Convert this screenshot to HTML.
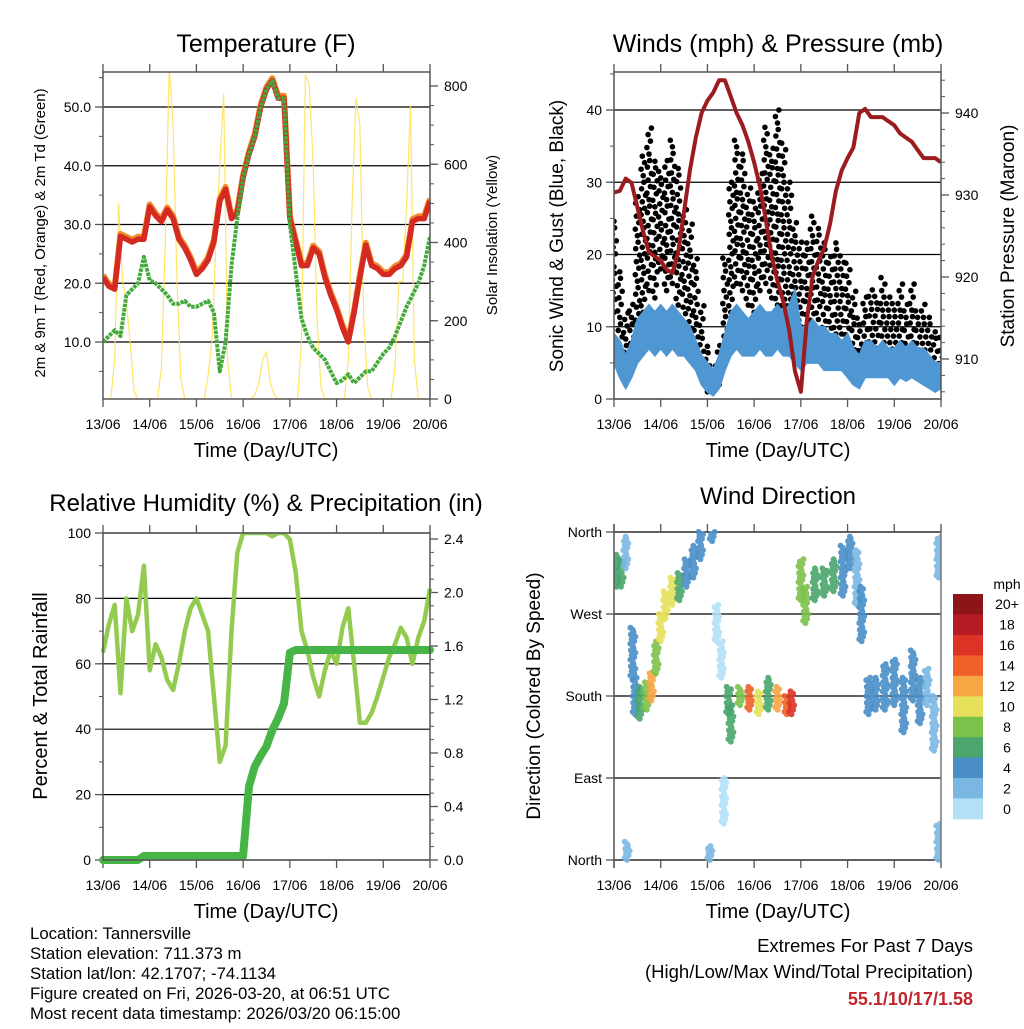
<!DOCTYPE html>
<html><head><meta charset="utf-8"><style>
html,body{margin:0;padding:0;background:#fff;}
svg text{font-family:"Liberation Sans",sans-serif;fill:#000;}
</style></head><body>
<svg id="chart" xmlns="http://www.w3.org/2000/svg" width="1024" height="1024" viewBox="0 0 1024 1024">
<rect x="0" y="0" width="1024" height="1024" fill="#fff"/>
<g id="p1"></g>
<g id="p2"></g>
<g id="p3"></g>
<g id="p4"></g>
<g id="txt">
<text x="266" y="52" font-size="25" text-anchor="middle">Temperature (F)</text>
<text x="778" y="52" font-size="25" text-anchor="middle">Winds (mph) &amp; Pressure (mb)</text>
<text x="266" y="511" font-size="24" text-anchor="middle">Relative Humidity (%) &amp; Precipitation (in)</text>
<text x="778" y="504" font-size="24" text-anchor="middle">Wind Direction</text>
<text x="266" y="457" font-size="20" text-anchor="middle">Time (Day/UTC)</text>
<text x="778" y="457" font-size="20" text-anchor="middle">Time (Day/UTC)</text>
<text x="266" y="918" font-size="20" text-anchor="middle">Time (Day/UTC)</text>
<text x="778" y="918" font-size="20" text-anchor="middle">Time (Day/UTC)</text>
<text transform="translate(45,233) rotate(-90)" font-size="15" text-anchor="middle">2m &amp; 9m T (Red, Orange) &amp; 2m Td (Green)</text>
<text transform="translate(497,235) rotate(-90)" font-size="15" text-anchor="middle">Solar Insolation (Yellow)</text>
<text transform="translate(563,236) rotate(-90)" font-size="19" text-anchor="middle">Sonic Wind &amp; Gust (Blue, Black)</text>
<text transform="translate(1014,236) rotate(-90)" font-size="19" text-anchor="middle">Station Pressure (Maroon)</text>
<text transform="translate(47,696) rotate(-90)" font-size="20" text-anchor="middle">Percent &amp; Total Rainfall</text>
<text transform="translate(540,696) rotate(-90)" font-size="19" text-anchor="middle">Direction (Colored By Speed)</text>
<text x="1007" y="589" font-size="14" text-anchor="middle">mph</text>
<g font-size="16.8">
<text x="30" y="939">Location: Tannersville</text>
<text x="30" y="959">Station elevation: 711.373 m</text>
<text x="30" y="979">Station lat/lon: 42.1707; -74.1134</text>
<text x="30" y="999">Figure created on Fri, 2026-03-20, at 06:51 UTC</text>
<text x="30" y="1019">Most recent data timestamp: 2026/03/20 06:15:00</text>
</g>
<text x="973" y="952" font-size="18.5" text-anchor="end">Extremes For Past 7 Days</text>
<text x="973" y="978" font-size="18.5" text-anchor="end">(High/Low/Max Wind/Total Precipitation)</text>
<text x="973" y="1005" font-size="18" font-weight="bold" text-anchor="end" style="fill:#c0272d">55.1/10/17/1.58</text>
</g>
</svg>
<script>
// ---- data (3-hourly, day 0..7) ----
const dayLabels = ["13/06","14/06","15/06","16/06","17/06","18/06","19/06","20/06"];
const tempF = [21,19.5,19,28,27.5,27,27.5,27.5, 33,31.5,30.5,32.5,31,27.5,26,24, 21.5,22.5,24,27,34,36,31,32, 38,42,45,50,53,54.5,51.5,51.5, 31,27,23,23,26,25,21,18, 15.5,12.5,10,15,21,26.5,23,22.5, 21.5,21.5,22.5,23,24.5,30.5,31,31, 34];
const dewF = [10,11,12,11,18,19,20,24.5, 20.5,20,19,18,16.5,16.5,17,16, 16,16.5,17,15,5,10,23,31, 38,42,45,50,53,54.5,51.5,51.5, 30,22,14,11,9,8,7,5, 3,3.5,4.5,3,4,5,5,6.5, 8,9,11,13.5,16,18,20,23, 28];
// solar, 2-hourly
const solar = [0,0,0,100,500,300,250,140,20,0,0,0, 0,0,0,80,400,850,700,300,50,0,0,0, 0,0,0,60,150,400,600,780,100,0,0,0, 0,0,0,10,40,100,120,40,10,0,0,0, 0,0,0,150,830,800,600,200,30,0,0,0, 0,0,0,100,500,770,700,200,30,0,0,0, 0,0,0,80,300,300,500,750,100,0,0,0, 0];
const pressure = [930.3,930.5,932,931.5,928.5,925.5,923,922.5, 922,920.9,920.5,923,928,933,937,940, 941.5,942.5,944,944,942,940,938.5,936.5, 934,931,927,922.5,919.5,917,913.5,908.5, 906,914.5,920,922,923.5,926.5,930.5,933, 934.5,935.8,940,940.5,939.5,939.5,939.5,939, 938.5,937.5,937,936.5,935.5,934.5,934.5,934.5, 934];
const windLo = [5,3,1.5,3,5,6,7,6, 7,6,7,6,6,5,4,2, 1,0.5,1.5,4,6,7,6,6, 6,7,6,6,7,6,6,5, 4,5,5,5,4,4,4,4, 3,2,1.5,3,3,3,3,3, 2,3,2.5,3,2.5,2,1.5,1, 1.5];
const windHi = [9,8,6,8,11,12,13,12, 13,12,13,12,11,10,8,6, 5,4,6,9,12,13,12,11, 12,13,12,12,13,12,13,15, 10,10,11,10,10,9,9,8, 9,7,6,8,8,7,8,7, 7,8,7,8,7,7,6,5, 5];
const gustLo = [12,5,2,5,10,12,15,14, 18,15,16,13,10,8,5,3, 1,1,2,6,12,16,15,13, 12,15,16,14,13,12,12,10, 10,9,10,11,9,8,9,9, 8,5,4,6,7,7,6,6, 6,6,5,6,5,5,5,3, 4];
const gustHi = [25,18,12,14,28,34,38,33, 32,33,36,32,27,25,20,13, 8,5,8,20,30,36,34,30, 28,32,38,35,40,36,30,25, 22,22,26,24,22,20,22,20, 19,15,12,15,16,15,17,15, 14,16,14,16,13,14,12,10, 9];
const rh = [63.5,72,78,51,80,70,75,90, 58,66,62,55,52,60,70,77, 80,75,70,50,30,35,70,94, 100,100,100,100,100,99,100,100, 98,88,70,64,56,50,58,64, 60,71,77,60,42,42,45,50, 56,62,66,71,68,60,68,73, 83];
const precip = [0,0,0,0,0,0,0,0.03, 0.03,0.03,0.03,0.03,0.03,0.03,0.03,0.03, 0.03,0.03,0.03,0.03,0.03,0.03,0.03,0.03, 0.03,0.55,0.7,0.78,0.85,0.97,1.06,1.17, 1.55,1.57,1.57,1.57,1.57,1.57,1.57,1.57, 1.57,1.57,1.57,1.57,1.57,1.57,1.57,1.57, 1.57,1.57,1.57,1.57,1.57,1.57,1.57,1.57, 1.57];
// wind direction clusters
const dirDay = [0.05,0.15,0.25,0.28,0.4,0.45,0.55,0.7,0.8,0.9,1.0,1.1,1.25,1.4,1.55,1.7,1.85,2.05,2.1,2.2,2.3,2.35,2.45,2.5,2.7,2.9,3.1,3.3,3.5,3.7,3.8,4.0,4.1,4.3,4.5,4.7,4.9,5.05,5.2,5.3,5.45,5.6,5.8,6.0,6.2,6.4,6.55,6.7,6.85,6.95,6.95];
const dirLo = [300,300,320,0,200,160,155,165,175,205,240,265,280,285,300,310,330,0,350,240,200,40,160,130,170,165,160,165,165,160,160,285,260,285,290,295,290,320,280,240,160,165,165,170,140,175,150,170,120,310,0];
const dirHi = [335,330,355,20,255,200,190,195,205,240,270,295,310,315,330,345,360,15,360,280,240,90,190,170,190,190,185,200,190,180,185,330,300,320,320,330,345,355,340,300,200,200,215,220,200,230,200,210,180,355,40];
const dirSpeed = [6,7,2,2,4,5,6,9,12,9,10,11,10,7,5,4,4,2,4,1,1,1,7,6,9,14,11,7,12,14,16,8,9,7,7,6,5,4,2,4,5,4,4,4,4,5,4,3,2,2,2];
const cbLabels = ["20+","18","16","14","12","10","8","6","4","2","0"];
const cbColors = ["#8e1517","#b71c25","#dc3326","#ef6129","#f7a644","#e6e05a","#7bc24a","#4aa66c","#4a8fc7","#7ab8e3","#b3e0f7"];

const NS="http://www.w3.org/2000/svg";
function mk(parent,tag,attrs){const e=document.createElementNS(NS,tag);for(const k in attrs)e.setAttribute(k,attrs[k]);parent.appendChild(e);return e;}
function lin(d0,d1,r0,r1){return v=>r0+(v-d0)*(r1-r0)/(d1-d0);}
const jitterX=[0,-0.045,0.03,-0.02,0.05,-0.035,0.015];

function frame(g,x0,x1,y0,y1,yl,yr,leftTicks,leftMinor,leftFmt,rightTicks,rightMinor,rightFmt,drawGrid){
  const xs=lin(0,7,x0,x1);
  if(drawGrid){for(const v of leftTicks){const y=yl(v);if(y<y0-0.5||y>y1+0.5)continue;
    const l=mk(g,'line',{x1:x0,x2:x1,y1:y,y2:y,stroke:'#000','stroke-width':1.2});
    }}
  for(let d=0;d<=7;d++){const x=xs(d);
    mk(g,'line',{x1:x,x2:x,y1:y0,y2:y0-8,stroke:'#555','stroke-width':1.3});
    mk(g,'line',{x1:x,x2:x,y1:y1,y2:y1+8,stroke:'#555','stroke-width':1.3});
    const t=mk(g,'text',{x:x,y:y1+30,'font-size':14,'text-anchor':'middle'});t.textContent=dayLabels[d];
    }
  for(const v of leftMinor){const y=yl(v);if(y<y0||y>y1)continue;mk(g,'line',{x1:x0,x2:x0-4,y1:y,y2:y,stroke:'#555','stroke-width':1});}
  for(const v of leftTicks){const y=yl(v);mk(g,'line',{x1:x0,x2:x0-8,y1:y,y2:y,stroke:'#555','stroke-width':1.3});
    const t=mk(g,'text',{x:x0-12,y:y+5,'font-size':14,'text-anchor':'end'});t.textContent=leftFmt(v);
    }
  if(rightTicks){for(const v of rightMinor){const y=yr(v);if(y<y0||y>y1)continue;mk(g,'line',{x1:x1,x2:x1+4,y1:y,y2:y,stroke:'#555','stroke-width':1});}
    for(const v of rightTicks){const y=yr(v);mk(g,'line',{x1:x1,x2:x1+8,y1:y,y2:y,stroke:'#555','stroke-width':1.3});
      const t=mk(g,'text',{x:x1+14,y:y+5,'font-size':14});t.textContent=rightFmt(v);
      }}
  return xs;
}
function border(g,x0,x1,y0,y1){const r=mk(g,'rect',{x:x0,y:y0,width:x1-x0,height:y1-y0,fill:'none',stroke:'#555','stroke-width':1.5});
  }
function path(g,arr,step,xs,ys,attrs){let d='';arr.forEach((v,i)=>{d+=(i?'L':'M')+xs(i*step).toFixed(1)+','+ys(v).toFixed(1);});attrs.d=d;attrs.fill='none';return mk(g,'path',attrs);}
function rng(a,b,s){const r=[];for(let v=a;v<=b+1e-9;v+=s)r.push(+v.toFixed(4));return r;}

// ---- Panel 1 ----
(function(){
  const g=document.getElementById('p1');const x0=103,x1=430,y0=72,y1=399;
  const yl=lin(50,10,107,342), yr=lin(0,800,399,86);
  const xs=frame(g,x0,x1,y0,y1,yl,yr,[10,20,30,40,50],rng(5,55,5),v=>v.toFixed(1),[0,200,400,600,800],rng(0,850,50),v=>String(v),true);
  const cp=mk(g,'clipPath',{id:'c1'});mk(cp,'rect',{x:x0,y:y0,width:x1-x0,height:y1-y0});
  const pg=mk(g,'g',{'clip-path':'url(#c1)'});
  const s=path(pg,solar,1/12,xs,yr,{stroke:'#ffe04d','stroke-width':1.2,opacity:0.85});
  
  const o=path(pg,tempF.map(v=>v+0.4),0.125,xs,yl,{stroke:'#f08a2a','stroke-width':6,'stroke-linejoin':'round'});
  
  const r=path(pg,tempF,0.125,xs,yl,{stroke:'#d42a22','stroke-width':5.5,'stroke-linejoin':'round'});
  
  const d=path(pg,dewF,0.125,xs,yl,{stroke:'#44aa3c','stroke-width':4,'stroke-dasharray':'3.5 1','stroke-linejoin':'round'});
  
  border(g,x0,x1,y0,y1);
})();

// ---- Panel 2 ----
(function(){
  const g=document.getElementById('p2');const x0=614,x1=941,y0=72,y1=399;
  const yl=lin(0,40,399,110), yr=lin(910,940,359,113);
  const xs=frame(g,x0,x1,y0,y1,yl,yr,[0,10,20,30,40],rng(5,45,5),v=>String(v),[910,920,930,940],rng(906,944,2),v=>String(v),true);
  const cp=mk(g,'clipPath',{id:'c2'});mk(cp,'rect',{x:x0,y:y0,width:x1-x0,height:y1-y0});
  const pg=mk(g,'g',{'clip-path':'url(#c2)'});
  const dots=mk(pg,'g',{fill:'#000'});
  gustLo.forEach((lo,i)=>{const hi=gustHi[i];let k=0;
    for(let v=lo;v<=hi;v+=0.9,k++){const off=jitterX[k%7];
      mk(dots,'circle',{cx:xs(i*0.125+off).toFixed(1),cy:yl(v).toFixed(1),r:2.8});}});
  let d='';windHi.forEach((v,i)=>{d+=(i?'L':'M')+xs(i*0.125).toFixed(1)+','+yl(v).toFixed(1);});
  for(let i=windLo.length-1;i>=0;i--)d+='L'+xs(i*0.125).toFixed(1)+','+yl(windLo[i]).toFixed(1);
  const band=mk(pg,'path',{d:d+'Z',fill:'#4f97d3',stroke:'#4f97d3','stroke-width':2});
  
  const p=path(pg,pressure,0.125,xs,yr,{stroke:'#9c1b1f','stroke-width':4,'stroke-linejoin':'round'});
  
  border(g,x0,x1,y0,y1);
})();

// ---- Panel 3 ----
(function(){
  const g=document.getElementById('p3');const x0=103,x1=430,y0=533,y1=860;
  const yl=lin(0,100,860,533), yr=lin(0,2.4,860,539);
  const xs=frame(g,x0,x1,y0,y1,yl,yr,[0,20,40,60,80,100],rng(10,90,10),v=>String(v),[0,0.4,0.8,1.2,1.6,2.0,2.4],rng(0,2.4,0.1),v=>v.toFixed(1),true);
  const cp=mk(g,'clipPath',{id:'c3'});mk(cp,'rect',{x:x0-5,y:y0,width:x1-x0+10,height:y1-y0+5});
  const pg=mk(g,'g',{'clip-path':'url(#c3)'});
  const h=path(pg,rh,0.125,xs,yl,{stroke:'#93cb50','stroke-width':4.5,'stroke-linejoin':'round'});
  
  const p=path(pg,precip,0.125,xs,yr,{stroke:'#46b446','stroke-width':8,'stroke-linejoin':'round','stroke-linecap':'round'});
  
  border(g,x0,x1,y0,y1);
})();

// ---- Panel 4 ----
(function(){
  const g=document.getElementById('p4');const x0=614,x1=941,y0=532,y1=860;
  const yl=lin(0,360,860,532);
  const names=["North","East","South","West","North"];
  const xs=frame(g,x0,x1,y0,y1,yl,null,[0,90,180,270,360],[],v=>names[v/90],null,null,null,true);
  const cp=mk(g,'clipPath',{id:'c4'});mk(cp,'rect',{x:x0,y:y0-4,width:x1-x0,height:y1-y0+8});
  const pg=mk(g,'g',{'clip-path':'url(#c4)'});
  dirDay.forEach((day,i)=>{const col=cbColors[10-Math.min(10,Math.floor(dirSpeed[i]/2))];
    const cl=mk(pg,'g',{fill:col,opacity:0.9});
    
    
    let k=0;for(let dd=dirLo[i];dd<=dirHi[i];dd+=2.5,k++){const off=jitterX[k%7]*1.1;
      mk(cl,'circle',{cx:xs(day+off).toFixed(1),cy:yl(dd).toFixed(1),r:3});}});
  mk(g,'line',{x1:x0,x2:x0,y1:524,y2:868,stroke:'#555','stroke-width':1.5});
  mk(g,'line',{x1:x1,x2:x1,y1:524,y2:868,stroke:'#777','stroke-width':1.5});
  // colorbar
  const cb=mk(g,'g',{});
  const bh=(819-594)/cbColors.length;
  cbColors.forEach((c,i)=>{mk(cb,'rect',{x:953,y:(594+i*bh).toFixed(1),width:30,height:(bh+0.3).toFixed(1),fill:c});
    const t=mk(cb,'text',{x:1007,y:(594+i*bh+bh/2+5).toFixed(1),'font-size':14,'text-anchor':'middle'});t.textContent=cbLabels[i];
    });
})();
</script>
</body></html>
